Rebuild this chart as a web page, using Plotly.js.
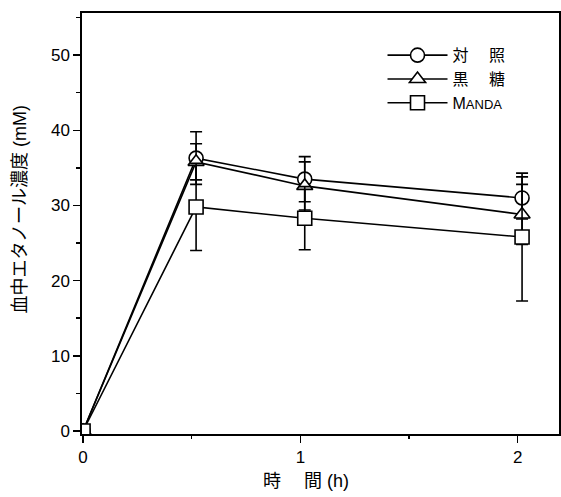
<!DOCTYPE html>
<html><head><meta charset="utf-8">
<script src="https://cdn.plot.ly/plotly-3.0.1.min.js"></script>
<style>html,body{margin:0;padding:0;background:#fff}</style>
</head><body>
<div id="chart" style="width:561px;height:497px"></div>
<script>
const timeX = [0, 0.52, 1.02, 2.02];
const controlY = [0, 36.3, 33.5, 31.0];
const controlErr = [0, 3.5, 3.0, 2.8];
const kokutoY = [0, 35.8, 32.6, 28.8];
const kokutoErr = [0, 2.4, 3.2, 4.0];
const mandaY = [0, 29.8, 28.3, 25.8];
const mandaErr = [0, 5.8, 4.2, 8.5];
const seriesNames = ['対　 照', '黒　 糖', 'M<span style="font-size:13px">ANDA</span>'];
const yTicks = [0, 10, 20, 30, 40, 50];
const xTicks = [0, 1, 2];
const xTitle = '時　 間 (h)';
const yTitle = '血中エタノール濃度 (mM)';

const jp = '"Liberation Sans", Arial, "Noto Sans CJK JP", sans-serif';
function tr(y, e, name, sym) {
  return {
    x: timeX, y: y, name: name, type: 'scatter', mode: 'lines+markers',
    line: {color: '#000', width: 1.6},
    marker: {symbol: sym, size: 14, color: '#fff', line: {color: '#000', width: 1.6}},
    error_y: {type: 'data', array: e, visible: true, color: '#000', thickness: 1.6, width: 6}
  };
}
const data = [
  tr(controlY, controlErr, seriesNames[0], 'circle'),
  tr(kokutoY, kokutoErr, seriesNames[1], 'triangle-up'),
  tr(mandaY, mandaErr, seriesNames[2], 'square')
];
const layout = {
  width: 561, height: 497,
  margin: {l: 82, r: 2, t: 13, b: 63},
  paper_bgcolor: '#fff', plot_bgcolor: '#fff',
  font: {family: jp, color: '#000', size: 16},
  showlegend: true,
  legend: {x: 0.63, y: 0.94, xanchor: 'left', yanchor: 'top', bgcolor: 'rgba(0,0,0,0)',
           font: {family: jp, size: 16, color: '#000'}, itemwidth: 60, tracegroupgap: 0},
  xaxis: {
    range: [-0.005, 2.19], tickvals: xTicks, ticktext: xTicks.map(String),
    ticks: 'outside', ticklen: 7, tickwidth: 1.5, tickcolor: '#000',
    minor: {tickvals: [0.5, 1.5], ticks: 'outside', ticklen: 3, tickcolor: '#000'},
    showgrid: false, zeroline: false, showline: true, linecolor: '#000', linewidth: 1.6, mirror: true,
    tickfont: {family: jp, size: 17}
  },
  yaxis: {
    range: [-0.4, 55.6], tickvals: yTicks, ticktext: yTicks.map(String),
    ticks: 'outside', ticklen: 7, tickwidth: 1.5, tickcolor: '#000',
    minor: {tickvals: [5, 15, 25, 35, 45, 55], ticks: 'outside', ticklen: 4, tickcolor: '#000'},
    showgrid: false, zeroline: false, showline: true, linecolor: '#000', linewidth: 1.6, mirror: true,
    tickfont: {family: jp, size: 17}
  },
  annotations: [
    {text: xTitle, xref: 'paper', yref: 'paper', x: (306 - 82) / 477, y: -(482 - 435) / 422,
     xanchor: 'center', yanchor: 'middle', showarrow: false, font: {family: jp, size: 18}},
    {text: yTitle, xref: 'paper', yref: 'paper', x: -(82 - 20) / 477, y: (435 - 210) / 422,
     xanchor: 'center', yanchor: 'middle', textangle: -90, showarrow: false, font: {family: jp, size: 18}}
  ]
};
Plotly.newPlot('chart', data, layout, {displayModeBar: false, staticPlot: true});
</script>
</body></html>
